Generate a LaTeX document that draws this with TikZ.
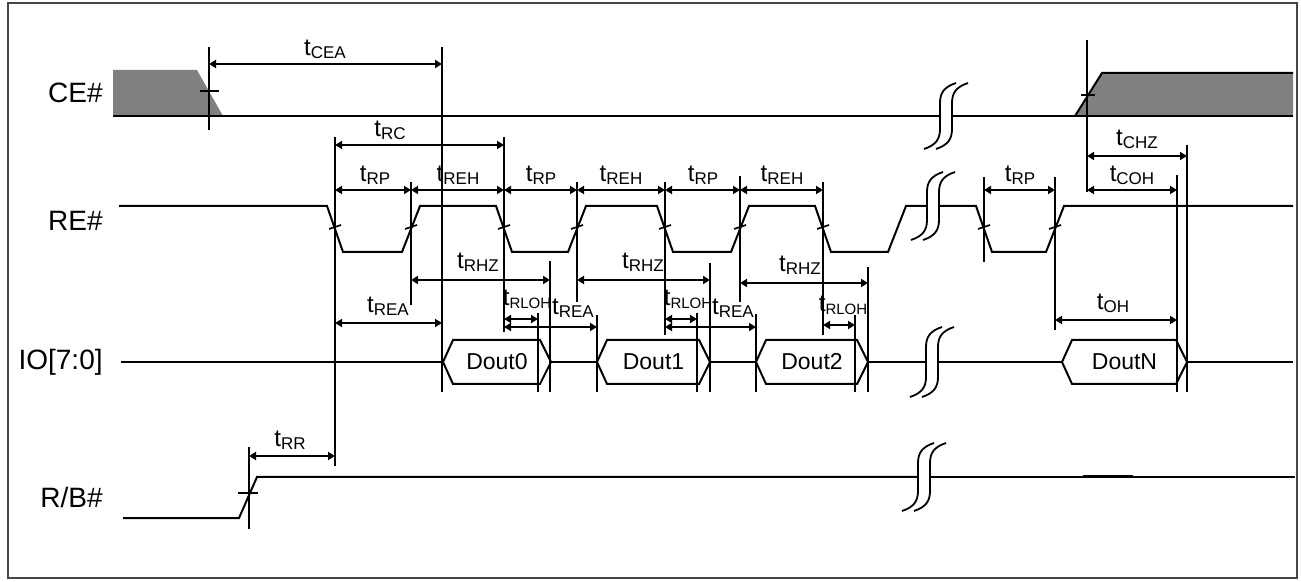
\documentclass[tikz,border=0pt]{standalone}
\usepackage{fontspec}
\setmainfont{Liberation Sans}
\usetikzlibrary{arrows.meta}
\definecolor{cegray}{RGB}{128,128,128}
\definecolor{framegray}{RGB}{70,70,70}
\newcommand\tlab[1]{{\fontsize{12}{12}\selectfont t}\raisebox{-1.5pt}{\fontsize{8.5}{8.5}\selectfont #1}}
\newcommand\tlabs[1]{{\fontsize{12}{12}\selectfont t}\raisebox{-1.5pt}{\fontsize{7.5}{7.5}\selectfont #1}}
\tikzset{
  sig/.style={line width=1pt},
  vline/.style={line width=0.9pt},
  dimarrow/.style={line width=1pt,{Triangle[length=3.5pt,width=4pt]}-{Triangle[length=3.5pt,width=4pt]}},
  tl/.style={anchor=south,inner sep=0pt},
  sname/.style={anchor=east,inner sep=0pt,font=\fontsize{14}{14}\selectfont},
  dlab/.style={inner sep=0pt,font=\fontsize{11.5}{11.5}\selectfont},
  brkline/.style={line width=0.9pt},
  tick/.style={line width=0.8pt}
}
\newcommand\breakmark[3]{%
  \foreach \dx in {0,12}{%
    \draw[brkline] ({#1+\dx-16},{#2+#3}) .. controls ({#1+\dx-4},{#2+#3-4}) and ({#1+\dx},{#2+#3-10}) .. ({#1+\dx},{#2+#3-20})
      -- ({#1+\dx},{#2-#3+20}) .. controls ({#1+\dx},{#2-#3+10}) and ({#1+\dx+4},{#2-#3+4}) .. ({#1+\dx+16},{#2-#3});
  }}
\newcommand\dbox[4]{%
  \draw[sig] (#1,362) -- ({#1+10},340) -- ({#2-11},340) -- (#2,362) -- ({#2-11},384) -- ({#1+10},384) -- cycle;
  \node[dlab] (#4) at ({(#1+#2)/2},362) {#3};}
\newcommand\vl[3]{\draw[vline] (#1,#2) -- (#1,#3);}
\newcommand\dimh[5]{%
  \coordinate (#5a) at (#1,#3); \coordinate (#5b) at (#2,#3);
  \draw[dimarrow] (#5a) -- (#5b);}
\newcommand\retick[1]{\draw[tick] ({#1-6},229) -- ({#1+6},225);}
\begin{document}
\begin{tikzpicture}[x=0.5pt,y=-0.5pt]
\useasboundingbox (0,0) rectangle (1301,582);
\draw[framegray,line width=0.8pt] (8,3) rectangle (1297,578);

% signal names
\node[sname] (nce) at (103,93) {CE\#};
\node[sname] (nre) at (103,221) {RE\#};
\node[sname] (nio) at (103,362) {IO[7:0]};
\node[sname] (nrb) at (103,497) {R/B\#};

% CE#
\fill[cegray] (113,70) -- (197,70) -- (223,116) -- (113,116) -- cycle;
\fill[cegray] (1075,116) -- (1102,73) -- (1293,73) -- (1293,116) -- cycle;
\draw[sig] (1075,116) -- (1102,73) -- (1293,73);
\draw[sig] (113,116) -- (940,116);
\draw[sig] (952,116) -- (1293,116);
\breakmark{940}{116}{33}
\draw[tick] (200,91) -- (219,91);
\draw[tick] (1081,95) -- (1095,95);

% RE#
\draw[sig] (119,206) -- (327,206) -- (343,252) -- (402,252) -- (420,206) -- (496,206) -- (512,252)
  -- (568,252) -- (586,206) -- (657,206) -- (673,252) -- (731,252) -- (749,206) -- (815,206)
  -- (831,252) -- (888,252) -- (906,206) -- (927,206);
\draw[sig] (939,206) -- (976,206) -- (992,252) -- (1046,252) -- (1064,206) -- (1293,206);
\breakmark{927}{206}{34}
\foreach \c in {335,411,504,577,665,740,823,984,1055} {\retick{\c}}

% IO
\draw[sig] (121,362) -- (443,362);
\draw[sig] (551,362) -- (597,362);
\draw[sig] (710,362) -- (756,362);
\draw[sig] (868,362) -- (926,362);
\draw[sig] (938,362) -- (1062,362);
\draw[sig] (1187,362) -- (1293,362);
\breakmark{926}{362}{35}
\dbox{443}{551}{Dout0}{d0}
\dbox{597}{710}{Dout1}{d1}
\dbox{756}{868}{Dout2}{d2}
\dbox{1062}{1187}{DoutN}{dn}

% R/B#
\draw[sig] (123,518) -- (239,518) -- (257,477) -- (918,477);
\draw[sig] (930,477) -- (1295,477);
\draw[line width=1.5pt] (1083,477) -- (1133,477);
\breakmark{918}{477}{34}
\draw[tick] (238,493) -- (258,493);

% vertical reference lines
\vl{209}{47}{130}
\vl{442}{47}{392}
\vl{335}{137}{466}
\vl{504}{137}{332}
\vl{411}{182}{305}
\vl{538}{313}{392}
\vl{550}{261}{392}
\vl{577}{182}{302}
\vl{597}{315}{392}
\vl{665}{182}{335}
\vl{697}{313}{392}
\vl{710}{263}{392}
\vl{740}{176}{302}
\vl{756}{314}{392}
\vl{823}{182}{335}
\vl{855}{315}{392}
\vl{868}{267}{392}
\vl{984}{177}{262}
\vl{1055}{177}{330}
\vl{1087}{40}{192}
\vl{1177}{175}{392}
\vl{1187}{145}{392}
\vl{249}{447}{529}

% dimension arrows and labels
\dimh{209}{442}{64}{}{cea}   \node[tl] (lcea) at (325,59) {\tlab{CEA}};
\dimh{335}{504}{145}{}{rc}   \node[tl] (lrc) at (390,140) {\tlab{RC}};
\dimh{335}{411}{190}{}{rpa}  \node[tl] (lrpa) at (375,185) {\tlab{RP}};
\dimh{411}{504}{190}{}{reha} \node[tl] (lreha) at (458,185) {\tlab{REH}};
\dimh{504}{577}{190}{}{rpb}  \node[tl] (lrpb) at (541,185) {\tlab{RP}};
\dimh{577}{665}{190}{}{rehb} \node[tl] (lrehb) at (621,185) {\tlab{REH}};
\dimh{665}{740}{190}{}{rpc}  \node[tl] (lrpc) at (703,185) {\tlab{RP}};
\dimh{740}{823}{190}{}{rehc} \node[tl] (lrehc) at (782,185) {\tlab{REH}};
\dimh{984}{1055}{190}{}{rpd} \node[tl] (lrpd) at (1020,185) {\tlab{RP}};
\dimh{1087}{1187}{156}{}{chz} \node[tl] (lchz) at (1137,149) {\tlab{CHZ}};
\dimh{1087}{1177}{190}{}{coh} \node[tl] (lcoh) at (1132,185) {\tlab{COH}};
\dimh{411}{550}{280}{}{rhza} \node[tl] (lrhza) at (478,272) {\tlab{RHZ}};
\dimh{577}{710}{280}{}{rhzb} \node[tl] (lrhzb) at (643,272) {\tlab{RHZ}};
\dimh{740}{868}{283}{}{rhzc} \node[tl] (lrhzc) at (800,275) {\tlab{RHZ}};
\dimh{335}{442}{323}{}{reaa} \node[tl] (lreaa) at (388,316) {\tlab{REA}};
\dimh{504}{538}{319}{}{rloha} \node[tl] (lrloha) at (527,309) {\tlabs{RLOH}};
\dimh{504}{597}{327}{}{reab} \node[tl] (lreab) at (573,318) {\tlab{REA}};
\dimh{665}{697}{319}{}{rlohb} \node[tl] (lrlohb) at (688,309) {\tlabs{RLOH}};
\dimh{665}{756}{327}{}{reac} \node[tl] (lreac) at (733,318) {\tlab{REA}};
\dimh{823}{855}{325}{}{rlohc} \node[tl] (lrlohc) at (843,315) {\tlabs{RLOH}};
\dimh{1055}{1177}{320}{}{oh} \node[tl] (loh) at (1113,313) {\tlab{OH}};
\dimh{249}{335}{456}{}{rr} \node[tl] (lrr) at (290,450) {\tlab{RR}};
\end{tikzpicture}
\end{document}
